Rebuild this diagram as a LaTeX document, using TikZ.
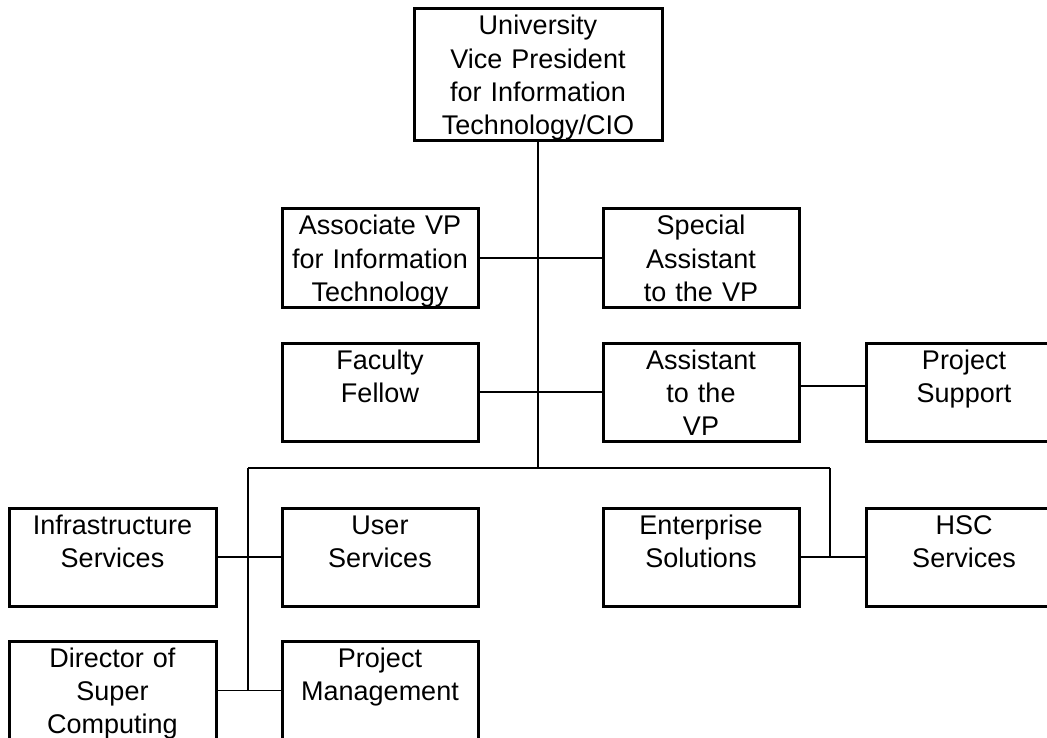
\documentclass[tikz,border=0pt]{standalone}
\usepackage{fontspec}
\setmainfont{Liberation Sans}
\begin{document}
\begin{tikzpicture}
[x=1pt, y=-1pt,
unitbox/.style={rectangle, draw=black, line width=3pt, outer sep=0pt, anchor=north, align=center, text width=196pt, inner xsep=0pt, inner ysep=8pt, text height=18pt, text depth=64pt, font=\fontsize{27}{33.3}\selectfont},
connect/.style={draw=black, line width=1.3pt}]
\useasboundingbox (0, 0) rectangle (1047, 738);
\clip (0, 0) rectangle (1047, 738);

\node[unitbox, text width=248pt, text depth=98pt] (cio) at (538, 9) {University\\Vice President\\for Information\\Technology/CIO};
\node[unitbox] (assocvp) at (380, 209) {Associate VP\\for Information\\Technology};
\node[unitbox] (special) at (701, 209) {Special\\Assistant\\to the VP};
\node[unitbox] (faculty) at (380, 343) {Faculty\\Fellow};
\node[unitbox] (assistant) at (701, 343) {Assistant\\to the\\VP};
\node[unitbox] (projsupport) at (964, 343) {Project\\Support};
\node[unitbox, text width=207pt] (infra) at (112.5, 508) {Infrastructure\\Services};
\node[unitbox] (user) at (380, 508) {User\\Services};
\node[unitbox] (enterprise) at (701, 508) {Enterprise\\Solutions};
\node[unitbox] (hsc) at (964, 508) {HSC\\Services};
\node[unitbox, text width=207pt, text depth=65pt] (director) at (112.5, 641) {Director of\\Super\\Computing};
\node[unitbox, text depth=65pt] (projmgmt) at (380, 641) {Project\\Management};

\coordinate (hub) at (538, 468);
\coordinate (leftbus) at (248, 468);
\coordinate (rightbus) at (830, 468);
\draw[connect] (cio.south) -- (hub);
\draw[connect] (assocvp.east) -- (special.west);
\draw[connect] (faculty.east) -- (assistant.west);
\draw[connect] ([yshift=6pt]assistant.east) -- ([yshift=6pt]projsupport.west);
\draw[connect] (leftbus) -- (rightbus);
\draw[connect] (leftbus) -- (leftbus |- director.east);
\draw[connect] (infra.east) -- (user.west);
\draw[connect] (director.east) -- (projmgmt.west);
\draw[connect] (rightbus) -- (rightbus |- enterprise.east);
\draw[connect] (enterprise.east) -- (hsc.west);

\end{tikzpicture}
\end{document}
